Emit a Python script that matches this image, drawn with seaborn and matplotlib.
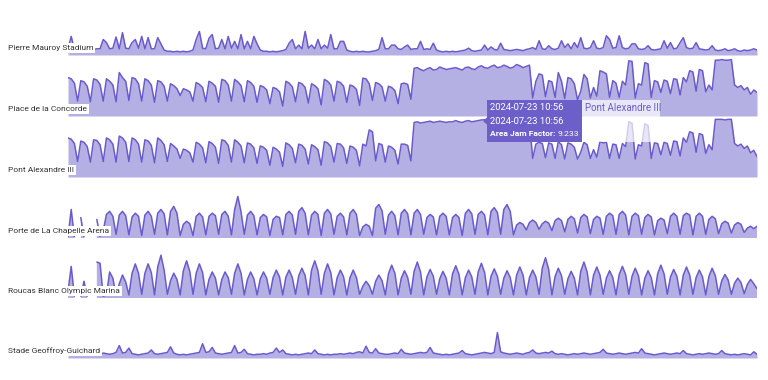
import numpy as np
import pandas as pd
import matplotlib.pyplot as plt
import seaborn as sns
from matplotlib.patches import Rectangle, Polygon
from matplotlib.text import Annotation

nan = np.nan

locations = ["Pierre Mauroy Stadium", "Place de la Concorde", "Pont Alexandre III",
             "Porte de La Chapelle Arena", "Roucas Blanc Olympic Marina", "Stade Geoffroy-Guichard"]
start = "2024-06-21 00:00"
n_days = 54  # 4 readings per day (every 6h)

pierre_mauroy = [
    1.0, 3.0, 0.9, 0.8, 0.9, 0.8, 0.7, 0.8, 0.9, 1.0, 1.0, 2.5, 2.0, 1.0, 1.1, 2.9, 1.0, 3.6, 1.1, 1.0, 2.0, 2.5, 1.1, 3.0,
    1.0, 2.8, 1.0, 1.0, 2.8, 1.8, 0.8, 0.6, 0.6, 0.5, 0.6, 0.5, 0.6, 0.5, 0.6, 0.8, 2.5, 3.8, 1.1, 1.0, 2.7, 3.3, 1.0, 1.1,
    2.5, 1.0, 3.0, 1.1, 2.2, 1.0, 3.3, 1.0, 2.2, 1.0, 3.0, 1.8, 0.8, 0.6, 0.6, 0.5, 0.6, 0.5, 0.6, 0.7, 0.9, 1.9, 2.5, 1.0,
    1.6, 1.0, 3.8, 1.1, 1.6, 1.0, 2.5, 1.0, 1.6, 1.1, 3.3, 1.0, 1.0, 2.2, 2.2, 0.8, 0.6, 0.5, 0.6, 0.5, 0.6, 0.5, 0.5, 0.6,
    0.7, 0.9, 2.8, 1.0, 1.0, 1.6, 1.6, 1.0, 0.9, 1.3, 1.6, 0.9, 1.0, 1.0, 2.2, 0.9, 1.0, 0.9, 1.9, 0.8, 0.6, 0.5, 0.6, 0.5,
    0.6, 0.5, 0.6, 0.7, 0.8, 1.1, 0.7, 0.6, 0.7, 0.8, 1.6, 0.8, 1.3, 0.9, 0.8, 1.9, 0.9, 0.8, 0.7, 0.8, 0.9, 0.8, 0.7, 0.9,
    1.0, 1.2, 0.9, 2.3, 1.0, 0.9, 1.5, 1.0, 0.9, 1.1, 2.3, 1.2, 1.8, 1.0, 2.0, 1.2, 2.8, 1.1, 1.0, 1.2, 2.3, 1.1, 1.0, 1.2,
    3.1, 2.5, 1.1, 1.2, 3.1, 1.2, 1.0, 1.1, 1.8, 1.8, 1.0, 0.9, 1.0, 1.5, 0.9, 0.8, 0.9, 1.0, 2.3, 1.1, 2.0, 1.0, 1.1, 2.0,
    2.8, 1.2, 1.0, 1.1, 2.0, 1.0, 0.9, 0.8, 0.9, 1.5, 0.8, 0.7, 0.8, 1.0, 0.7, 0.8, 1.0, 0.7, 0.6, 0.8, 0.7, 0.8, 1.0, 0.8,
]

concorde = [
    6.2, 6.0, 5.3, 2.4, 5.7, 5.5, 4.8, 2.3, 6.0, 5.8, 5.1, 2.4, 6.0, 5.6, 5.0, 2.3,
    7.0, 6.2, 5.6, 2.5, 6.2, 6.0, 5.2, 2.4, 6.0, 5.7, 5.0, 2.2, 5.7, 5.5, 4.8, 2.4,
    5.2, 4.9, 4.4, 3.3, 4.4, 4.2, 3.9, 2.4, 5.4, 5.1, 4.6, 2.3, 5.6, 5.3, 4.8, 2.2,
    5.9, 5.7, 5.0, 2.4, 5.9, 5.5, 4.9, 2.3, 5.7, 5.4, 4.8, 2.2, 4.9, 4.7, 4.2, 2.0,
    4.6, 4.4, 3.9, 1.6, 5.6, 5.3, 4.7, 2.3, 5.4, 5.2, 4.6, 2.1, 5.2, 4.9, 4.4, 1.8,
    5.9, 5.6, 5.0, 2.4, 5.6, 5.4, 4.8, 2.2, 5.0, 4.8, 4.3, 1.7, 6.1, 6.0, 5.2, 2.5,
    5.4, 5.2, 4.7, 2.4, 4.8, 4.6, 4.1, 2.0, 5.2, 5.3, 5.1, 2.7, 7.7, 7.8, 7.5, 7.3,
    7.6, 7.8, 7.4, 7.5, 7.9, 7.7, 7.5, 7.6, 7.7, 7.8, 7.6, 7.4, 7.8, 7.9, 7.6, 7.5,
    7.9, 8.1, 7.8, 7.7, 8.0, 8.2, 7.8, 7.9, 8.2, 8.0, 7.7, 7.9, 8.3, 8.1, 7.8, 8.0,
    8.2, 2.9, 5.6, 6.8, 6.6, 3.1, 5.7, 5.5, 3.0, 7.0, 5.6, 2.8, 6.2, 6.0, 5.2, 2.6,
    4.0, 6.7, 6.0, 2.9, 4.6, 3.2, 7.3, 7.1, 6.8, 3.0, 5.7, 5.3, 3.0, 5.6, 5.0, 8.9,
    8.8, 2.9, 5.2, 5.0, 8.6, 8.4, 3.0, 5.7, 5.5, 3.8, 5.8, 5.6, 3.6, 6.0, 5.9, 3.4,
    6.2, 5.5, 7.3, 7.1, 4.0, 7.5, 7.3, 3.9, 5.0, 4.2, 9.0, 9.0, 9.1, 9.0, 9.0, 9.1,
    5.0, 4.6, 4.9, 4.2, 4.6, 3.5, 4.2, 3.8,
]

pont_alexandre = [
    6.3, 6.1, 5.4, 2.5, 5.8, 5.6, 4.9, 2.4, 6.0, 5.9, 5.2, 2.5, 6.3, 6.0, 5.3, 2.4,
    6.6, 6.3, 5.6, 2.5, 6.3, 6.0, 5.3, 2.4, 6.0, 5.8, 5.1, 2.3, 6.3, 5.9, 5.2, 2.5,
    5.4, 5.0, 4.5, 3.0, 4.5, 4.3, 3.9, 2.4, 5.6, 5.3, 4.7, 2.3, 5.7, 5.4, 4.8, 2.2,
    6.0, 5.8, 5.1, 2.4, 6.0, 5.6, 5.0, 2.3, 5.5, 5.3, 4.7, 2.2, 5.0, 4.8, 4.3, 1.9,
    4.8, 4.5, 4.0, 1.7, 5.5, 5.2, 4.6, 2.3, 5.3, 5.1, 4.5, 2.1, 5.2, 4.9, 4.4, 1.9,
    5.7, 5.5, 4.9, 2.4, 5.4, 5.3, 4.7, 2.2, 5.0, 4.8, 4.3, 1.8, 5.3, 5.0, 7.6, 7.3,
    2.6, 5.4, 5.2, 2.4, 5.0, 4.8, 4.3, 2.1, 5.3, 5.3, 5.1, 2.6, 8.8, 8.9, 8.7, 8.8,
    8.9, 9.0, 8.8, 8.9, 9.0, 8.9, 8.8, 8.9, 8.9, 9.1, 8.9, 8.8, 9.0, 9.1, 8.9, 9.0,
    9.1, 9.2, 9.233, 9.1, 9.2, 9.1, 9.0, 9.2, 9.2, 9.1, 9.0, 9.1, 9.1, 9.2, 9.0, 9.1,
    9.0, 3.0, 5.3, 5.6, 5.4, 3.1, 5.5, 5.3, 3.0, 5.7, 5.2, 2.9, 5.5, 5.3, 4.8, 2.9,
    4.0, 5.6, 5.2, 3.0, 4.4, 3.2, 5.7, 5.5, 5.6, 3.0, 5.3, 5.2, 3.0, 5.4, 4.9, 8.9,
    8.7, 2.9, 5.2, 5.0, 8.6, 8.3, 3.0, 5.5, 5.4, 3.6, 5.6, 5.4, 3.5, 5.8, 5.7, 3.4,
    6.3, 5.6, 7.3, 7.1, 4.0, 7.0, 6.8, 3.8, 5.2, 4.4, 9.3, 9.3, 9.3, 9.2, 9.3, 9.3,
    5.4, 5.0, 5.3, 4.6, 5.0, 3.9, 4.3, 3.3,
]

la_chapelle = [
    0.2, 4.6, 0.2, nan, 3.3, 0.2, nan, nan, nan, 3.0, 0.3, 1.2, 3.8, 4.3, 3.5, 0.6,
    3.7, 4.3, 3.6, 0.5, 3.4, 4.0, 3.5, 0.4, 3.7, 4.3, 3.5, 0.6, 4.0, 4.6, 3.9, 0.5,
    4.3, 5.1, 4.0, 0.4, 2.2, 2.7, 2.3, 0.4, 3.5, 4.0, 3.4, 0.5, 3.5, 4.0, 3.6, 0.6,
    3.8, 4.3, 3.5, 0.5, 4.6, 6.7, 4.2, 0.6, 3.7, 4.3, 3.6, 0.5, 3.3, 3.8, 3.4, 0.4,
    3.0, 3.5, 3.3, 0.5, 3.8, 4.3, 3.7, 0.6, 4.3, 4.9, 4.0, 0.5, 3.7, 4.3, 3.8, 0.4,
    4.0, 4.6, 3.9, 0.6, 3.5, 4.0, 3.4, 0.5, 4.0, 4.6, 3.8, 0.4, 1.8, 2.2, 1.9, 0.4,
    4.8, 5.4, 4.4, 0.6, 3.7, 4.3, 3.6, 0.5, 4.0, 4.6, 3.9, 0.5, 4.0, 4.6, 3.8, 0.6,
    3.3, 3.8, 3.4, 0.5, 3.5, 4.0, 3.5, 0.5, 3.3, 3.8, 3.3, 0.4, 4.0, 4.6, 3.9, 0.6,
    3.8, 4.3, 3.7, 0.5, 4.3, 4.9, 4.1, 0.6, 4.6, 5.4, 4.3, 0.5, 2.1, 2.5, 2.2, 1.3,
    2.5, 2.9, 2.5, 1.4, 2.3, 2.7, 2.4, 1.2, 2.8, 3.2, 2.8, 1.0, 3.0, 3.5, 3.1, 0.8,
    3.3, 3.8, 3.4, 0.7, 3.0, 3.5, 3.2, 0.6, 3.5, 4.0, 3.6, 0.6, 3.8, 4.3, 3.7, 0.5,
    3.5, 4.0, 3.6, 0.6, 3.3, 3.8, 3.4, 0.5, 2.8, 3.2, 2.9, 0.7, 3.5, 4.0, 3.5, 0.6,
    3.6, 4.0, 3.7, 0.5, 3.5, 4.0, 3.5, 0.6, 3.0, 3.5, 3.1, 0.7, 2.3, 2.7, 2.4, 0.8,
    2.1, 2.5, 2.2, 0.9, 1.6, 1.9, 1.5, 1.9,
]

roucas_blanc = [
    1.0, 5.1, 0.3, nan, 0.3, 2.7, 0.3, nan, nan, 5.8, 5.6, 0.3, 0.5, 4.2, 3.2, 0.4,
    2.3, 3.7, 2.6, 0.5, 4.0, 5.5, 4.0, 0.6, 4.0, 5.5, 4.1, 0.5, 5.0, 6.9, 4.5, 0.6,
    2.8, 4.0, 3.0, 0.5, 4.4, 6.0, 4.3, 0.6, 4.0, 5.5, 4.1, 0.5, 3.0, 4.2, 3.2, 0.5,
    3.0, 4.2, 3.3, 0.6, 4.0, 5.5, 4.0, 0.5, 3.0, 4.2, 3.1, 0.5, 3.1, 4.2, 3.2, 0.6,
    3.3, 4.5, 3.4, 0.5, 3.4, 4.5, 3.3, 0.6, 3.6, 4.8, 3.6, 0.5, 4.5, 6.0, 4.4, 0.6,
    4.0, 5.5, 4.1, 0.5, 3.3, 4.5, 3.4, 0.5, 3.3, 4.5, 3.3, 0.6, 1.9, 2.7, 2.0, 0.6,
    2.7, 3.7, 2.8, 0.5, 3.9, 5.3, 4.0, 0.5, 3.2, 4.4, 3.3, 0.6, 4.3, 5.8, 4.2, 0.5,
    3.4, 4.6, 3.5, 0.6, 3.1, 4.3, 3.2, 0.5, 3.9, 5.2, 3.8, 0.5, 3.3, 4.5, 3.4, 0.6,
    4.2, 5.6, 4.1, 0.5, 3.5, 4.7, 3.5, 0.6, 3.2, 4.4, 3.3, 0.5, 3.7, 5.0, 3.7, 0.5,
    3.3, 4.5, 3.4, 0.6, 4.8, 6.5, 4.6, 0.5, 3.5, 4.8, 3.6, 0.6, 3.1, 4.3, 3.2, 0.5,
    4.3, 5.8, 4.2, 0.5, 3.7, 5.0, 3.7, 0.6, 3.2, 4.4, 3.3, 0.5, 3.8, 5.1, 3.8, 0.6,
    3.5, 4.8, 3.6, 0.5, 3.2, 4.4, 3.3, 0.5, 3.9, 5.3, 3.9, 0.6, 3.4, 4.6, 3.5, 0.5,
    3.7, 5.0, 3.7, 0.6, 3.3, 4.5, 3.4, 0.5, 3.5, 4.8, 3.6, 0.6, 2.8, 3.8, 2.9, 0.6,
    2.4, 3.2, 2.5, 0.7, 2.2, 3.0, 2.3, 1.5,
]

geoffroy_guichard = [
    0.6, 1.2, 0.6, 0.5, 0.6, 0.7, 0.6, 0.5, 0.6, 0.7, 0.6, 0.8, 0.7, 0.6, 0.7, 0.9, 2.0, 0.8, 0.9, 1.6, 0.7, 0.6, 0.5, 0.6,
    0.7, 0.8, 1.3, 0.7, 0.6, 0.7, 0.8, 0.9, 1.8, 0.8, 0.6, 0.5, 0.6, 0.5, 0.6, 0.7, 0.8, 0.9, 2.3, 0.9, 1.0, 1.7, 0.8, 0.7,
    0.6, 0.7, 0.8, 0.9, 2.0, 0.8, 0.9, 1.4, 0.7, 0.6, 0.5, 0.6, 0.6, 0.7, 0.6, 0.8, 0.9, 1.6, 0.9, 1.3, 0.7, 0.6, 0.5, 0.6,
    0.5, 0.6, 0.7, 0.8, 0.7, 1.3, 0.7, 0.6, 0.5, 0.6, 0.5, 0.6, 0.6, 0.7, 0.6, 0.7, 0.8, 0.7, 0.9, 1.0, 0.8, 1.9, 0.9, 0.8,
    1.5, 0.8, 0.7, 0.6, 0.6, 0.7, 0.8, 0.7, 1.4, 0.8, 0.7, 0.6, 0.7, 0.8, 0.9, 0.8, 0.9, 1.7, 0.8, 0.7, 0.6, 0.5, 0.6, 0.5,
    0.6, 0.7, 0.8, 1.2, 0.7, 0.6, 0.5, 0.6, 0.7, 0.8, 0.9, 0.8, 0.7, 0.9, 4.1, 1.0, 0.8, 0.7, 0.6, 0.7, 0.8, 0.7, 0.6, 0.8,
    0.9, 1.3, 0.8, 0.7, 0.8, 0.9, 0.8, 1.1, 0.7, 0.6, 0.7, 0.6, 0.5, 0.6, 0.7, 0.6, 0.7, 0.8, 0.7, 0.6, 0.7, 0.8, 0.9, 1.4,
    0.8, 0.7, 0.6, 0.7, 0.8, 0.7, 0.6, 0.7, 0.8, 0.9, 0.8, 1.5, 0.8, 0.7, 0.6, 0.5, 0.6, 0.7, 0.8, 0.7, 0.6, 0.7, 0.8, 0.7,
    1.2, 0.7, 0.6, 0.5, 0.6, 0.7, 0.6, 0.7, 0.8, 0.7, 0.6, 0.7, 1.2, 0.7, 0.6, 0.5, 0.6, 0.5, 0.6, 0.7, 0.6, 0.5, 1.0, 0.6,
]

series = [pierre_mauroy, concorde, pont_alexandre, la_chapelle, roucas_blanc, geoffroy_guichard]

times = pd.date_range(start, periods=n_days * 4, freq="6h")
frames = []
for loc, vals in zip(locations, series):
    assert len(vals) == len(times), (loc, len(vals))
    frames.append(pd.DataFrame({"time": times, "location": loc, "jam": vals}))
df = pd.concat(frames, ignore_index=True)

sns.set_theme(style="white")
plt.rcParams["font.family"] = ["Roboto", "DejaVu Sans"]

W, H = 768, 380
LINE = "#6a5bcd"
FILL = "#b5b0e4"
DARK = "#6c5fc9"
baselines = [55, 116, 177, 238, 298, 358]
px_per_unit = 6.2
left, right = 68, 757

fig = plt.figure(figsize=(W / 100, H / 100), dpi=100)


def fx(px):
    return px / W


def fy(py):
    return 1 - py / H


for loc, base in zip(locations, baselines):
    sub = df[df.location == loc].copy()
    ax = fig.add_axes([fx(left), fy(base), (right - left) / W, 10 * px_per_unit / H])
    ax.fill_between(sub.time, 0, sub.jam, color=FILL, lw=0)
    sub["seg"] = sub.jam.isna().cumsum()
    sub = sub.dropna(subset=["jam"])
    sns.lineplot(data=sub, x="time", y="jam", units="seg", estimator=None,
                 color=LINE, lw=1.1, ax=ax, legend=False)
    ax.set_xlim(times[0], times[-1])
    ax.set_ylim(0, 10)
    ax.axis("off")
    fig.text(fx(8), fy(base - 7), loc, fontsize=6.0, color="#333333", va="center", ha="left",
             bbox=dict(facecolor="white", edgecolor="none", pad=1.3), zorder=5)

# hover tooltip on Pont Alexandre III
fig.add_artist(Rectangle((fx(582), fy(142)), 78 / W, 42 / H, transform=fig.transFigure,
                         facecolor="white", alpha=0.7, edgecolor="none", zorder=6))
fig.add_artist(Rectangle((fx(487), fy(142)), 95 / W, 42 / H, transform=fig.transFigure,
                         facecolor=DARK, edgecolor="none", zorder=7))
fig.add_artist(Polygon([(fx(483), fy(121)), (fx(487.5), fy(117)), (fx(487.5), fy(125))],
                       closed=True, transform=fig.transFigure, facecolor=DARK,
                       edgecolor="none", zorder=7))
fig.text(fx(490), fy(108), "2024-07-23 10:56", color="white", fontsize=6.8, va="center", zorder=8)
fig.text(fx(490), fy(121), "2024-07-23 10:56", color="white", fontsize=6.8, va="center", zorder=8)
label_txt = fig.text(fx(490), fy(134), "Area Jam Factor:", color="white", fontsize=6.1,
                     fontweight="bold", va="center", zorder=8)
fig.add_artist(Annotation("9.233", xy=(1, 0.5), xycoords=label_txt, xytext=(1.5, 0),
                          textcoords="offset points", color="white", fontsize=6.1,
                          va="center", ha="left", zorder=8))
fig.text(fx(585), fy(108), "Pont Alexandre III", color=LINE, fontsize=7, va="center", zorder=8)

fig.savefig("out.png", dpi=100)
